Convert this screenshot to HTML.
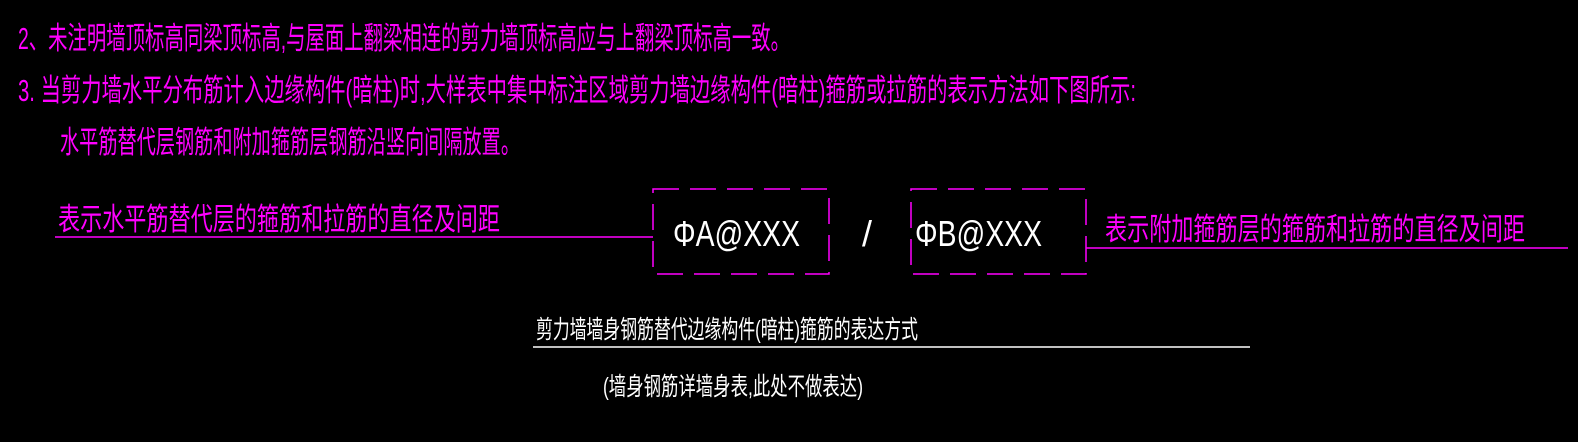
<!DOCTYPE html>
<html><head><meta charset="utf-8"><style>
html,body{margin:0;padding:0;background:#000;}
svg{display:block;}
text{font-family:"Liberation Sans","Noto Sans CJK SC",sans-serif;}
</style></head><body>
<svg width="1578" height="442" viewBox="0 0 1578 442">
<g fill="#ff00ff" font-size="31">
<text x="18" y="49" textLength="772" lengthAdjust="spacingAndGlyphs">2、未注明墙顶标高同梁顶标高,与屋面上翻梁相连的剪力墙顶标高应与上翻梁顶标高一致。</text>
<text x="18" y="101" textLength="1118" lengthAdjust="spacingAndGlyphs">3. 当剪力墙水平分布筋计入边缘构件(暗柱)时,大样表中集中标注区域剪力墙边缘构件(暗柱)箍筋或拉筋的表示方法如下图所示:</text>
<text x="60" y="153" textLength="460" lengthAdjust="spacingAndGlyphs">水平筋替代层钢筋和附加箍筋层钢筋沿竖向间隔放置。</text>
<text x="58" y="230" textLength="442" lengthAdjust="spacingAndGlyphs">表示水平筋替代层的箍筋和拉筋的直径及间距</text>
<text x="1105" y="240" textLength="420" lengthAdjust="spacingAndGlyphs">表示附加箍筋层的箍筋和拉筋的直径及间距</text>
</g>
<g stroke="#ff00ff" stroke-width="1.5" fill="none">
<line x1="55" y1="237" x2="653" y2="237"/>
<line x1="1086" y1="248" x2="1568" y2="248"/>
<rect x="653" y="189" width="176" height="85" stroke-dasharray="26,11"/>
<rect x="911" y="189" width="175" height="85" stroke-dasharray="26,11"/>
</g>
<g fill="#fff" font-size="36">
<text x="673" y="246" textLength="127" lengthAdjust="spacingAndGlyphs">ΦA@XXX</text>
<text x="862" y="246">/</text>
<text x="915" y="246" textLength="127" lengthAdjust="spacingAndGlyphs">ΦB@XXX</text>
</g>
<g fill="#fff" font-size="25">
<text x="536" y="338" textLength="382" lengthAdjust="spacingAndGlyphs">剪力墙墙身钢筋替代边缘构件(暗柱)箍筋的表达方式</text>
<text x="603" y="395" textLength="260" lengthAdjust="spacingAndGlyphs">(墙身钢筋详墙身表,此处不做表达)</text>
</g>
<line x1="533" y1="347" x2="1250" y2="347" stroke="#fff" stroke-width="1.5"/>
</svg>
</body></html>
